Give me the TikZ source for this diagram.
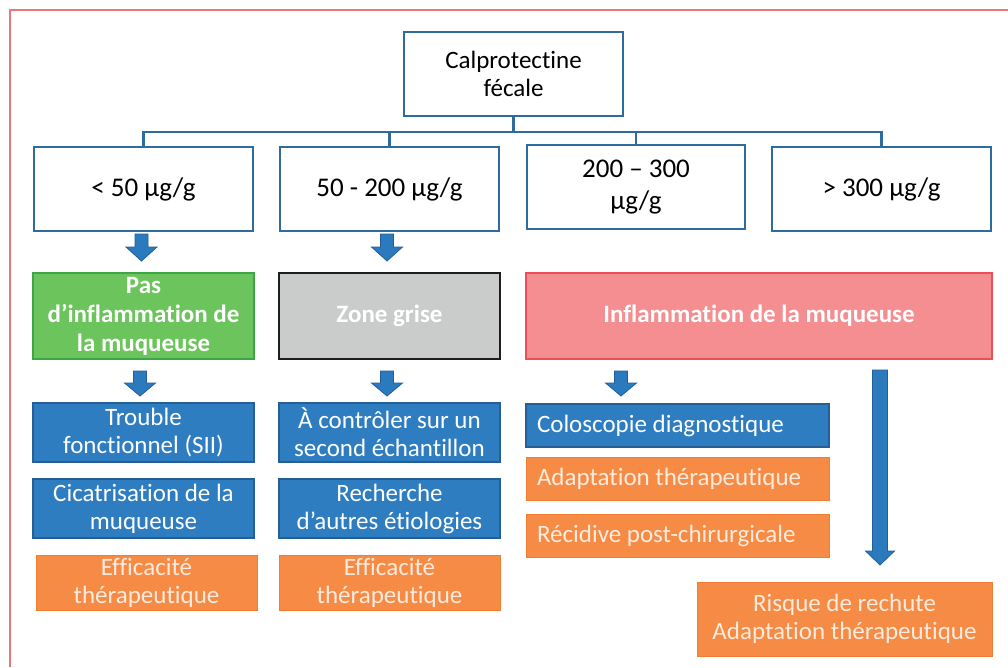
\documentclass[tikz,border=0pt]{standalone}
\usepackage{fontspec}
\setmainfont{Carlito}[Ligatures=NoCommon]
\definecolor{framered}{RGB}{232,120,122}
\definecolor{boxblue}{RGB}{46,108,160}
\definecolor{fillblue}{RGB}{46,125,193}
\definecolor{edgeblue}{RGB}{37,95,150}
\definecolor{greenfill}{RGB}{108,196,92}
\definecolor{greenedge}{RGB}{60,165,70}
\definecolor{grayfill}{RGB}{201,204,203}
\definecolor{grayedge}{RGB}{30,30,30}
\definecolor{pinkfill}{RGB}{245,142,145}
\definecolor{pinkedge}{RGB}{236,80,85}
\definecolor{orangefill}{RGB}{246,139,69}
\definecolor{orangeedge}{RGB}{240,125,50}
\definecolor{orangetext}{RGB}{253,235,222}
\definecolor{arrowfill}{RGB}{44,122,190}
\definecolor{arrowedge}{RGB}{35,95,150}
\tikzset{
  base/.style={inner sep=0pt, outer sep=0pt, align=center},
  topbox/.style={base, draw=boxblue, line width=2.5pt, fill=white, text=black,
    font=\fontsize{27}{32}\selectfont, minimum height=84pt},
  greenbox/.style={base, fill=greenfill, draw=greenedge, line width=1.5pt, text=white,
    font=\fontsize{25}{29}\selectfont\bfseries, minimum width=221pt, minimum height=86pt},
  graybox/.style={base, fill=grayfill, draw=grayedge, line width=2.5pt, text=white,
    font=\fontsize{25}{29}\selectfont\bfseries, minimum width=221pt, minimum height=86pt},
  pinkbox/.style={base, fill=pinkfill, draw=pinkedge, line width=1.5pt, text=white,
    font=\fontsize{25}{29}\selectfont\bfseries, minimum width=466pt, minimum height=86pt},
  bluebox/.style={base, fill=fillblue, draw=edgeblue, line width=1.2pt, text=white,
    font=\fontsize{25}{28}\selectfont, minimum width=221pt},
  orangebox/.style={base, fill=orangefill, draw=orangeedge, line width=1pt, text=orangetext,
    font=\fontsize{25}{28}\selectfont, minimum width=221pt},
  leftbox/.style={inner xsep=11pt, inner ysep=0pt, outer sep=0pt, align=flush left, text width=281pt,
    font=\fontsize{25}{28}\selectfont, minimum height=43pt},
  bus/.style={draw=boxblue, line width=2.5pt},
  pics/barrow/.style n args={4}{code={
    \filldraw[fill=arrowfill, draw=arrowedge, line width=0.8pt]
      (-#2,0) -- (#2,0) -- (#2,#1-#4) -- (#3,#1-#4) -- (0,#1)
      -- (-#3,#1-#4) -- (-#2,#1-#4) -- cycle;}}
}
\begin{document}
\begin{tikzpicture}[x=1pt,y=-1pt]
\useasboundingbox (0,0) rectangle (1008,667);
\fill[white] (0,0) rectangle (1008,667);
% frame
\draw[framered, line width=2pt] (10,667) -- (10,10) -- (1008,10);

% top
\node[topbox, minimum width=219pt, font=\fontsize{25}{28}\selectfont] (top) at (513.5,74) {Calprotectine\\fécale};
\node[topbox, minimum width=219pt] (b1) at (143.5,189) {< 50 µg/g};
\node[topbox, minimum width=219pt] (b2) at (389.5,189) {50 - 200 µg/g};
\node[topbox, minimum width=218pt] (b3) at (636,187) {200 – 300\\µg/g};
\node[topbox, minimum width=219pt] (b4) at (881.5,189) {> 300 µg/g};
\coordinate (busc) at (513.5,132);
\draw[bus] (top.south) -- (busc);
\draw[bus] (busc) -| (b1.north);
\draw[bus] (busc) -| (b2.north);
\draw[bus] (busc) -| (b3.north);
\draw[bus] (busc) -| (b4.north);

% arrows level 1 -> 2
\pic at (141.5,234) {barrow={27}{6.5}{15.5}{14}};
\pic at (387,234) {barrow={27}{6.5}{15.5}{14}};

% level 2
\node[greenbox] (g) at (143.5,316) {Pas\\d’inflammation de\\la muqueuse};
\node[graybox] (z) at (389.5,316) {Zone grise};
\node[pinkbox] (p) at (759,316) {Inflammation de la muqueuse};

% arrows level 2 -> 3
\pic at (140,371) {barrow={25}{6.5}{15.5}{13}};
\pic at (387,371) {barrow={25}{6.5}{15.5}{13}};
\pic at (621,371) {barrow={25}{6.5}{15.5}{13}};
\pic at (880,370) {barrow={195}{7.5}{14.5}{14}};

% column 1
\node[bluebox, minimum height=59pt] (t1) at (143.5,432.5) {Trouble\\fonctionnel (SII)};
\node[bluebox, minimum height=59pt] (t2) at (143.5,508.5) {Cicatrisation de la\\muqueuse};
\node[orangebox, minimum height=55pt] (t3) at (146.5,582.5) {Efficacité\\thérapeutique};
% column 2
\node[bluebox, minimum height=59pt] (u1) at (389.5,432.5) {À contrôler sur un\\second échantillon};
\node[bluebox, minimum height=59pt] (u2) at (389.5,508.5) {Recherche\\d’autres étiologies};
\node[orangebox, minimum height=55pt] (u3) at (389.5,582.5) {Efficacité\\thérapeutique};
% column 3
\node[leftbox, fill=fillblue, draw=edgeblue, line width=1.2pt, text=white] (v1) at (677.5,425.5) {Coloscopie diagnostique};
\node[leftbox, fill=orangefill, draw=orangeedge, line width=1pt, text=orangetext] (v2) at (677.5,478.5) {Adaptation thérapeutique};
\node[leftbox, fill=orangefill, draw=orangeedge, line width=1pt, text=orangetext] (v3) at (677.5,535.5) {Récidive post-chirurgicale};
\node[orangebox, minimum width=295pt, minimum height=74pt] (w) at (844.5,619) {Risque de rechute\\Adaptation thérapeutique};
\end{tikzpicture}
\end{document}
